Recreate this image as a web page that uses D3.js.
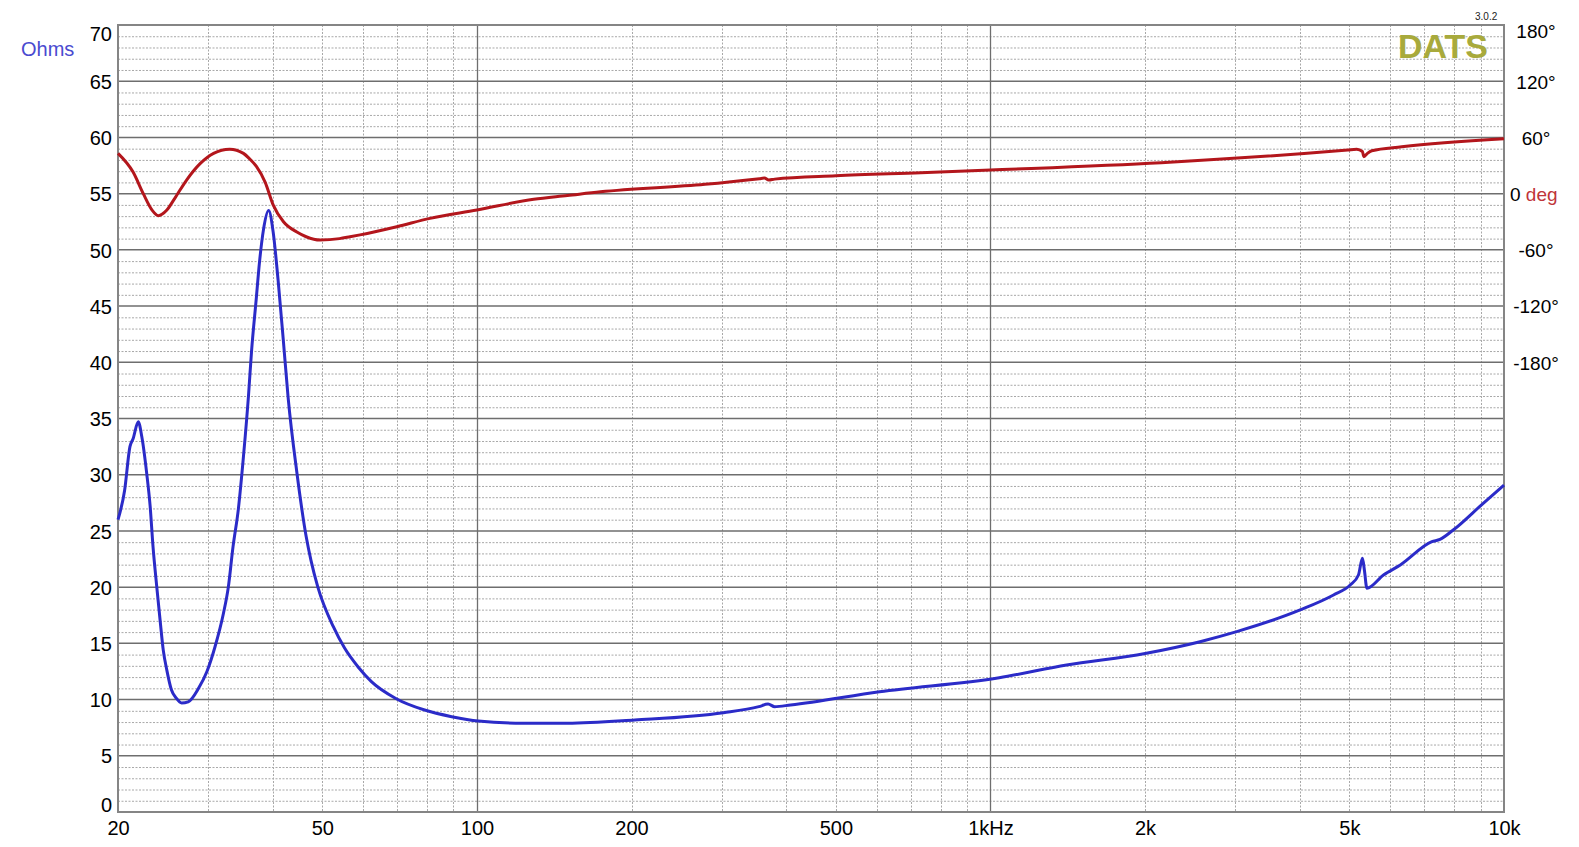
<!DOCTYPE html>
<html>
<head>
<meta charset="utf-8">
<script src="https://cdn.jsdelivr.net/npm/d3@7"></script>
<style>
  html, body { margin: 0; padding: 0; background: #ffffff; }
  svg { display: block; }
  text { font-family: "Liberation Sans", Arial, sans-serif; }
</style>
</head>
<body>
<svg id="chart" width="1579" height="847"></svg>
<script>
// ---------- data ----------
const impFreq = [20, 20.6, 21.1, 21.4, 21.9, 22.25, 22.75, 23.1, 23.4, 23.8, 24.15, 24.5, 24.9, 25.4, 26.0, 26.6, 27.4, 28.7, 29.8, 30.9, 32.1, 32.8, 33.5, 34.3, 35.1, 35.9, 36.4, 37.2, 37.7, 38.4, 39.3, 40.1, 41.0, 42.0, 42.9, 44.6, 46.5, 47.5, 49.0, 52.5, 55.2, 58.7, 62.3, 69.5, 79.1, 89.3, 100.6, 123, 150, 203, 302, 354, 369, 380, 408, 608, 1040, 1407, 2000, 2559, 3017, 4009, 4656, 5017, 5207, 5301, 5348, 5408, 5826, 6281, 7237, 7504, 7963, 9110, 10000];
const impOhms = [26.0, 28.6, 32.5, 33.2, 34.7, 33.4, 30.1, 27.2, 23.6, 20.0, 17.1, 14.4, 12.6, 10.9, 10.1, 9.7, 9.8, 11.0, 12.5, 14.7, 17.7, 20.0, 23.6, 26.9, 31.6, 37.0, 41.0, 45.8, 48.8, 51.8, 53.5, 51.6, 47.3, 41.8, 36.8, 30.2, 24.5, 22.4, 20.0, 16.5, 14.6, 12.9, 11.6, 10.1, 9.07, 8.48, 8.09, 7.9, 7.89, 8.18, 8.83, 9.37, 9.6, 9.37, 9.52, 10.7, 11.95, 13.07, 14.1, 15.15, 16.04, 17.97, 19.3, 20.19, 21.08, 22.56, 21.5, 19.9, 21.08, 21.97, 24.04, 24.25, 25.08, 27.46, 29.08];

const phaseFreq = [20, 21.4, 22.4, 23.3, 23.96, 24.9, 25.8, 27.2, 28.9, 30.7, 33.0, 35.1, 36.1, 37.2, 38.7, 40.1, 42.0, 44.6, 46.5, 49.5, 54, 56.6, 59.2, 69.8, 81, 100, 129, 150, 174, 278, 355, 363, 370, 380, 500, 732, 1000, 2150, 4965, 5167, 5300, 5334, 5420, 5527, 6322, 10000];
const phaseDeg  = [43, 23, 0, -17.5, -23.5, -17.5, -5, 14.5, 32, 43, 47.5, 43, 37, 29, 12, -12, -30, -41, -46, -49.5, -48, -46, -44, -35.3, -26.4, -17.5, -6, -2, 2, 10, 16, 16.6, 14.5, 15.5, 19, 22.3, 25.2, 33, 46.6, 47.4, 45, 39.5, 43, 45.8, 50, 58.5];

const ohmTicks = d3.range(0, 71, 5);
const phaseTicks = [180, 120, 60, 0, -60, -120, -180];
const phaseTickLabels = ["180°", "120°", "60°", "0", "-60°", "-120°", "-180°"];
const freqTicks = [20, 50, 100, 200, 500, 1000, 2000, 5000, 10000];
const freqTickLabels = ["20", "50", "100", "200", "500", "1kHz", "2k", "5k", "10k"];

// ---------- layout ----------
const L = 118, R = 1504, T = 25, B = 812;
const svg = d3.select("#chart");

const x = d3.scaleLog().domain([20, 10000]).range([L, R]);
const y = d3.scaleLinear().domain([0, 70]).range([B, T]);
const yPhase = d3.scaleLinear().domain([-180, 180]).range([y(40), y(70)]);

const minorCol = "#a8a8a8", majorCol = "#6e6e6e";

// minor horizontal grid
const g = svg.append("g");
g.selectAll("line.hmin").data(d3.range(1, 70).filter(v => v % 5 !== 0)).join("line")
  .attr("x1", L).attr("x2", R).attr("y1", d => y(d) + 0.5).attr("y2", d => y(d) + 0.5)
  .attr("stroke", minorCol).attr("stroke-width", 1).attr("stroke-dasharray", "2,1.5");

// vertical grid
const vGrid = [];
[10, 100, 1000].forEach(dec => { for (let k = 1; k <= 9; k++) { const f = k * dec; if (f > 20 && f < 10000) vGrid.push(f); } });
g.selectAll("line.vmin").data(vGrid.filter(f => f !== 100 && f !== 1000)).join("line")
  .attr("x1", d => Math.round(x(d)) + 0.5).attr("x2", d => Math.round(x(d)) + 0.5).attr("y1", T).attr("y2", B)
  .attr("stroke", minorCol).attr("stroke-width", 1).attr("stroke-dasharray", "2,1.5");
g.selectAll("line.vmaj").data([100, 1000]).join("line")
  .attr("x1", d => Math.round(x(d)) + 0.5).attr("x2", d => Math.round(x(d)) + 0.5).attr("y1", T).attr("y2", B)
  .attr("stroke", majorCol).attr("stroke-width", 1.3);

// major horizontal grid
g.selectAll("line.hmaj").data(ohmTicks.filter(v => v > 0 && v < 70)).join("line")
  .attr("x1", L).attr("x2", R).attr("y1", d => y(d)).attr("y2", d => y(d))
  .attr("stroke", majorCol).attr("stroke-width", 1.5);

// frame
svg.append("rect").attr("x", L).attr("y", T).attr("width", R - L).attr("height", B - T)
  .attr("fill", "none").attr("stroke", "#858585").attr("stroke-width", 2);

// ---------- curves ----------
const impData = impFreq.map((f, i) => [f, impOhms[i]]);
const phData = phaseFreq.map((f, i) => [f, phaseDeg[i]]);

svg.append("path").datum(phData)
  .attr("fill", "none").attr("stroke", "#b3161c").attr("stroke-width", 3).attr("stroke-linejoin", "round")
  .attr("d", d3.line().x(d => x(d[0])).y(d => yPhase(d[1])).curve(d3.curveMonotoneX));

svg.append("path").datum(impData)
  .attr("fill", "none").attr("stroke", "#2b2bc8").attr("stroke-width", 3).attr("stroke-linejoin", "round")
  .attr("d", d3.line().x(d => x(d[0])).y(d => y(d[1])).curve(d3.curveMonotoneX));

// ---------- axes ----------
const yAxis = svg.append("g").attr("transform", `translate(${L - 6},0)`)
  .call(d3.axisLeft(y).tickValues(ohmTicks).tickSize(0).tickPadding(0));
yAxis.select(".domain").remove();
yAxis.selectAll("text").attr("font-size", 20).attr("fill", "#000")
  .attr("font-family", "'Liberation Sans', Arial, sans-serif")
  .attr("dy", d => d === 70 ? "0.78em" : d === 0 ? "-0.05em" : "0.36em");

const xAxis = svg.append("g").attr("transform", `translate(0,${B + 4})`)
  .call(d3.axisBottom(x).tickValues(freqTicks).tickFormat((d, i) => freqTickLabels[i]).tickSize(0).tickPadding(0));
xAxis.select(".domain").remove();
xAxis.selectAll("text").attr("font-size", 20).attr("fill", "#000")
  .attr("font-family", "'Liberation Sans', Arial, sans-serif").attr("dy", "0.95em");

const pAxis = svg.append("g").attr("transform", `translate(${R + 32},0)`)
  .call(d3.axisRight(yPhase).tickValues(phaseTicks).tickFormat((d, i) => phaseTickLabels[i]).tickSize(0).tickPadding(0));
pAxis.select(".domain").remove();
pAxis.selectAll("text").attr("font-size", 19).attr("fill", "#000").attr("text-anchor", "middle")
  .attr("font-family", "'Liberation Sans', Arial, sans-serif")
  .attr("dy", d => d === 180 ? "0.68em" : "0.36em");
pAxis.selectAll(".tick").filter(d => d === 0).select("text")
  .attr("text-anchor", "start").attr("x", -26)
  .append("tspan").attr("fill", "#c0353a").text(" deg");

// ---------- labels ----------
svg.append("text").attr("x", 21).attr("y", 56).attr("font-size", 20).attr("fill", "#4a4ad0").text("Ohms");
svg.append("text").attr("x", 1398).attr("y", 58).attr("font-size", 34).attr("font-weight", "bold")
  .attr("fill", "#a8aa3c").text("DATS");
svg.append("text").attr("x", 1475).attr("y", 20).attr("font-size", 10)
  .attr("font-family", "'Liberation Serif', 'DejaVu Serif', serif").attr("fill", "#222").text("3.0.2");
</script>
</body>
</html>
